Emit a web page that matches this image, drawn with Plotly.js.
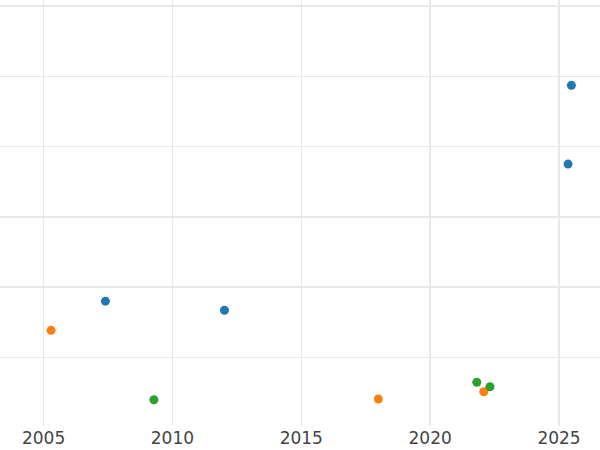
<!DOCTYPE html>
<html>
<head>
<meta charset="utf-8">
<script src="https://cdn.plot.ly/plotly-3.0.1.min.js"></script>
<style>html,body{margin:0;padding:0;background:#fff;}#chart{width:600px;height:450px;}</style>
</head>
<body>
<div id="chart"></div>
<script>
const blueYears = [2007.40, 2012.02, 2025.35, 2025.48];
const blueValues = [1.80, 1.67, 3.75, 4.87];
const orangeYears = [2005.29, 2017.99, 2022.08];
const orangeValues = [1.385, 0.408, 0.512];
const greenYears = [2009.28, 2021.81, 2022.32];
const greenValues = [0.398, 0.646, 0.583];
const xTickVals = [2005, 2010, 2015, 2020, 2025];
const xTickText = ['2005', '2010', '2015', '2020', '2025'];

const mk = (x, y, c) => ({x: x, y: y, type: 'scatter', mode: 'markers',
  marker: {color: c, size: 9}, showlegend: false, hoverinfo: 'x+y'});

const data = [
  mk(blueYears, blueValues, '#1f77b4'),
  mk(orangeYears, orangeValues, '#ff7f0e'),
  mk(greenYears, greenValues, '#2ca02c')
];

const layout = {
  width: 600, height: 450,
  margin: {l: 0, r: 0, t: 0, b: 24, pad: 0},
  paper_bgcolor: '#ffffff', plot_bgcolor: '#ffffff',
  font: {family: 'DejaVu Sans, sans-serif', size: 17, color: '#444'},
  showlegend: false,
  xaxis: {range: [2003.31, 2026.59], tickvals: xTickVals, ticktext: xTickText,
    showgrid: true, gridcolor: '#e8e8e8', gridwidth: 1.4, zeroline: false,
    showline: false, ticks: '', ticklen: 0, tickfont: {size: 17, color: '#444'}},
  yaxis: {range: [0.024, 6.084], dtick: 1, showgrid: true, gridcolor: '#e8e8e8', gridwidth: 1.4,
    zeroline: false, showline: false, showticklabels: false, ticks: ''}
};

Plotly.newPlot('chart', data, layout, {displayModeBar: false, staticPlot: true});
</script>
</body>
</html>
